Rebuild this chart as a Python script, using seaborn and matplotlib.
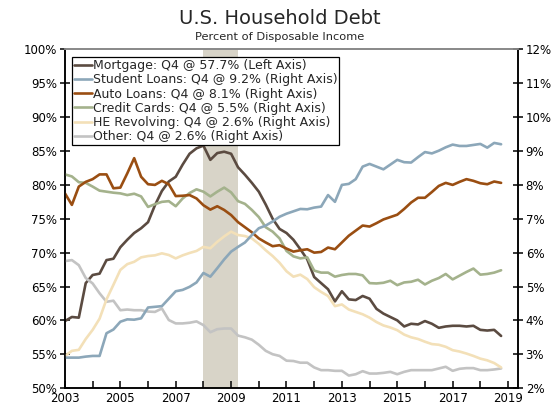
import numpy as np
import pandas as pd
import seaborn as sns
import matplotlib.pyplot as plt
from matplotlib.ticker import FuncFormatter

# quarterly, 2003Q1 .. 2018Q4, percent of disposable income
mortgage = [59.9, 60.5, 60.4, 65.5, 66.7, 66.9, 68.9, 69.1,
            70.8, 71.9, 72.9, 73.6, 74.5, 77.0, 79.1, 80.5,
            81.2, 83.0, 84.6, 85.4, 85.8, 83.7, 84.7, 84.9,
            84.6, 82.6, 81.5, 80.3, 79.0, 77.1, 75.0, 73.5,
            72.9, 71.9, 70.5, 69.0, 66.4, 65.5, 64.6, 62.8,
            64.3, 63.1, 63.0, 63.6, 63.2, 61.7, 61.0, 60.5,
            60.0, 59.1, 59.5, 59.4, 59.9, 59.5, 58.9, 59.1,
            59.2, 59.2, 59.1, 59.2, 58.6, 58.5, 58.6, 57.7]
student = [2.90, 2.90, 2.90, 2.93, 2.95, 2.95, 3.62, 3.73,
           3.96, 4.03, 4.02, 4.06, 4.38, 4.40, 4.42, 4.64,
           4.86, 4.90, 4.99, 5.12, 5.40, 5.29, 5.54, 5.80,
           6.03, 6.17, 6.30, 6.52, 6.72, 6.80, 6.92, 7.06,
           7.15, 7.22, 7.29, 7.28, 7.33, 7.36, 7.70, 7.50,
           8.00, 8.03, 8.17, 8.54, 8.62, 8.54, 8.46, 8.60,
           8.74, 8.67, 8.66, 8.82, 8.97, 8.93, 9.01, 9.11,
           9.19, 9.15, 9.15, 9.18, 9.21, 9.10, 9.24, 9.20]
auto = [7.75, 7.41, 7.95, 8.09, 8.17, 8.31, 8.31, 7.90,
        7.92, 8.34, 8.79, 8.24, 8.02, 8.00, 8.12, 8.02,
        7.67, 7.68, 7.70, 7.60, 7.40, 7.27, 7.37, 7.26,
        7.11, 6.90, 6.75, 6.60, 6.42, 6.30, 6.19, 6.22,
        6.12, 6.03, 6.07, 6.10, 6.00, 6.02, 6.15, 6.10,
        6.30, 6.50, 6.65, 6.80, 6.77, 6.87, 6.98, 7.05,
        7.12, 7.29, 7.48, 7.62, 7.62, 7.79, 7.97, 8.06,
        8.00, 8.09, 8.17, 8.12, 8.05, 8.02, 8.10, 8.06]
credit = [8.31, 8.25, 8.08, 8.06, 7.95, 7.83, 7.80, 7.77,
          7.75, 7.70, 7.74, 7.66, 7.35, 7.43, 7.50, 7.52,
          7.37, 7.60, 7.76, 7.87, 7.80, 7.66, 7.80, 7.92,
          7.78, 7.52, 7.44, 7.26, 7.05, 6.75, 6.62, 6.42,
          6.05, 5.89, 5.83, 5.86, 5.47, 5.41, 5.41, 5.29,
          5.34, 5.37, 5.37, 5.33, 5.10, 5.09, 5.11, 5.17,
          5.04, 5.12, 5.14, 5.20, 5.06, 5.17, 5.25, 5.37,
          5.21, 5.32, 5.43, 5.53, 5.35, 5.37, 5.41, 5.48]
he_revolving = [2.95, 3.10, 3.13, 3.45, 3.72, 4.05, 4.62, 5.05,
                5.49, 5.66, 5.73, 5.86, 5.90, 5.92, 5.98, 5.93,
                5.83, 5.92, 5.99, 6.05, 6.17, 6.13, 6.32, 6.48,
                6.62, 6.52, 6.49, 6.42, 6.26, 6.07, 5.90, 5.70,
                5.45, 5.29, 5.35, 5.22, 4.98, 4.84, 4.72, 4.42,
                4.47, 4.32, 4.25, 4.18, 4.08, 3.95, 3.85, 3.79,
                3.71, 3.58, 3.50, 3.45, 3.37, 3.30, 3.28, 3.22,
                3.12, 3.08, 3.02, 2.95, 2.87, 2.82, 2.74, 2.61]
other = [5.75, 5.78, 5.63, 5.25, 5.09, 4.80, 4.55, 4.58,
         4.30, 4.32, 4.30, 4.30, 4.26, 4.25, 4.35, 4.01,
         3.91, 3.91, 3.93, 3.97, 3.86, 3.65, 3.74, 3.76,
         3.76, 3.55, 3.50, 3.43, 3.28, 3.10, 3.00, 2.95,
         2.81, 2.80, 2.75, 2.75, 2.61, 2.53, 2.53, 2.51,
         2.51, 2.37, 2.41, 2.50, 2.43, 2.43, 2.45, 2.48,
         2.41, 2.48, 2.53, 2.53, 2.53, 2.53, 2.58, 2.63,
         2.51, 2.57, 2.59, 2.59, 2.53, 2.53, 2.55, 2.58]

labels = ['Mortgage: Q4 @ 57.7% (Left Axis)',
          'Student Loans: Q4 @ 9.2% (Right Axis)',
          'Auto Loans: Q4 @ 8.1% (Right Axis)',
          'Credit Cards: Q4 @ 5.5% (Right Axis)',
          'HE Revolving: Q4 @ 2.6% (Right Axis)',
          'Other: Q4 @ 2.6% (Right Axis)']
colors = ['#5b4b41', '#8ca7b9', '#9a4e12', '#a4b28c', '#f3e0b8', '#c3c3c3']

recession = (2008.0, 2009.25)

quarters = pd.period_range('2003Q1', '2018Q4', freq='Q')
df = pd.DataFrame({'t': quarters.year + (quarters.quarter - 1) / 4,
                   'mortgage': mortgage, 'student': student, 'auto': auto,
                   'credit': credit, 'he': he_revolving, 'other': other})

sns.set_style('ticks')
plt.rcParams['font.family'] = ['DejaVu Sans']

fig = plt.figure(figsize=(5.6, 4.12), dpi=100)
ax = fig.add_axes([0.116, 0.058, 0.809, 0.822])
ax2 = ax.twinx()

ax.axvspan(*recession, color='#d8d4c8', lw=0, zorder=0)

lw = 1.9
sns.lineplot(data=df, x='t', y='mortgage', ax=ax, color=colors[0], lw=lw)
right_cols = ['student', 'auto', 'credit', 'he', 'other']
for col, c in zip(right_cols[::-1], colors[1:][::-1]):
    sns.lineplot(data=df, x='t', y=col, ax=ax2, color=c, lw=lw)

ax.set_xlim(2003, 2019.36)
ax.set_ylim(50, 100)
ax2.set_ylim(2, 12)
ax.set_yticks(np.arange(50, 101, 5))
ax2.set_yticks(np.arange(2, 13, 1))
ax.yaxis.set_major_formatter(FuncFormatter(lambda v, p: f'{v:.0f}%'))
ax2.yaxis.set_major_formatter(FuncFormatter(lambda v, p: f'{v:.0f}%'))
years = list(range(2003, 2020))
ax.set_xticks(years)
ax.set_xticklabels([str(y) if (y - 2003) % 2 == 0 else '' for y in years])
ax.set_xlabel('')
ax.set_ylabel('')
ax2.set_ylabel('')

for a in (ax, ax2):
    a.tick_params(axis='both', labelsize=8.5, colors='black', width=1.1,
                  length=7, direction='inout', pad=2)
    a.spines['top'].set_color('#8a8a8a')
    a.spines['top'].set_linewidth(1.3)
    for s in ('left', 'right', 'bottom'):
        a.spines[s].set_color('black')
        a.spines[s].set_linewidth(1.1)
ax.tick_params(axis='x', direction='in', length=5, pad=3)

handles = [plt.Line2D([], [], color=c, lw=lw) for c in colors]
leg = ax2.legend(handles, labels, loc='upper left', bbox_to_anchor=(0.016, 0.977),
                 fontsize=9, frameon=True, fancybox=False, framealpha=1,
                 edgecolor='black', handlelength=1.4, handletextpad=0.1,
                 labelspacing=0.1, borderpad=0.15, borderaxespad=0)
leg.get_frame().set_linewidth(0.9)

fig.text(0.5, 0.955, 'U.S. Household Debt', ha='center', va='center', fontsize=14)
fig.text(0.5, 0.91, 'Percent of Disposable Income', ha='center', va='center', fontsize=8.2)

fig.savefig('out.png', dpi=100)
